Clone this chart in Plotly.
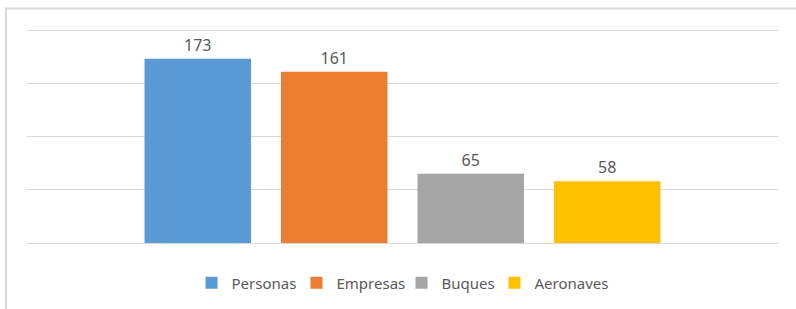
import plotly.graph_objects as go

series = ["Personas", "Empresas", "Buques", "Aeronaves"]
values = [173, 161, 65, 58]
colors = ["#5B9BD5", "#ED7D31", "#A5A5A5", "#FFC000"]
legend_widths = [60, 60, 48, None]

fig = go.Figure()
for name, v, c, lw in zip(series, values, colors, legend_widths):
    fig.add_trace(go.Bar(
        x=[""], y=[v], name=name, marker=dict(color=c, line=dict(width=0)),
        text=[str(v)], textposition="outside", cliponaxis=False,
        textfont=dict(color="#595959", size=16, family="Noto Sans"),
        legendwidth=lw,
    ))

fig.update_layout(
    width=796, height=309,
    margin=dict(l=27, r=18, t=28, b=66, autoexpand=False),
    paper_bgcolor="white", plot_bgcolor="white",
    barmode="group", bargap=0.273, bargroupgap=0.22,
    font=dict(family="Noto Sans", color="#595959", size=15),
    showlegend=True,
    legend=dict(orientation="h", x=0.5, xanchor="center", y=-0.186, yanchor="middle",
                font=dict(size=15, color="#595959"), itemwidth=30, tracegroupgap=0),
    xaxis=dict(showticklabels=False, showgrid=False, zeroline=False, showline=False, ticks=""),
    yaxis=dict(range=[0, 202], tickvals=[0, 50, 100, 150, 200], showticklabels=False, showgrid=True,
               gridcolor="#d9d9d9", gridwidth=1, zeroline=True, zerolinecolor="#d9d9d9",
               zerolinewidth=1, showline=False, ticks=""),
    shapes=[dict(type="rect", xref="paper", yref="paper", x0=-0.028, x1=1.2, y0=-0.6, y1=1.0907,
                 line=dict(color="#d9d9d9", width=2), fillcolor="rgba(0,0,0,0)", layer="below")],
)

fig.write_html("out.html", config={"displayModeBar": False},
               post_script="document.body.style.margin='0';")
